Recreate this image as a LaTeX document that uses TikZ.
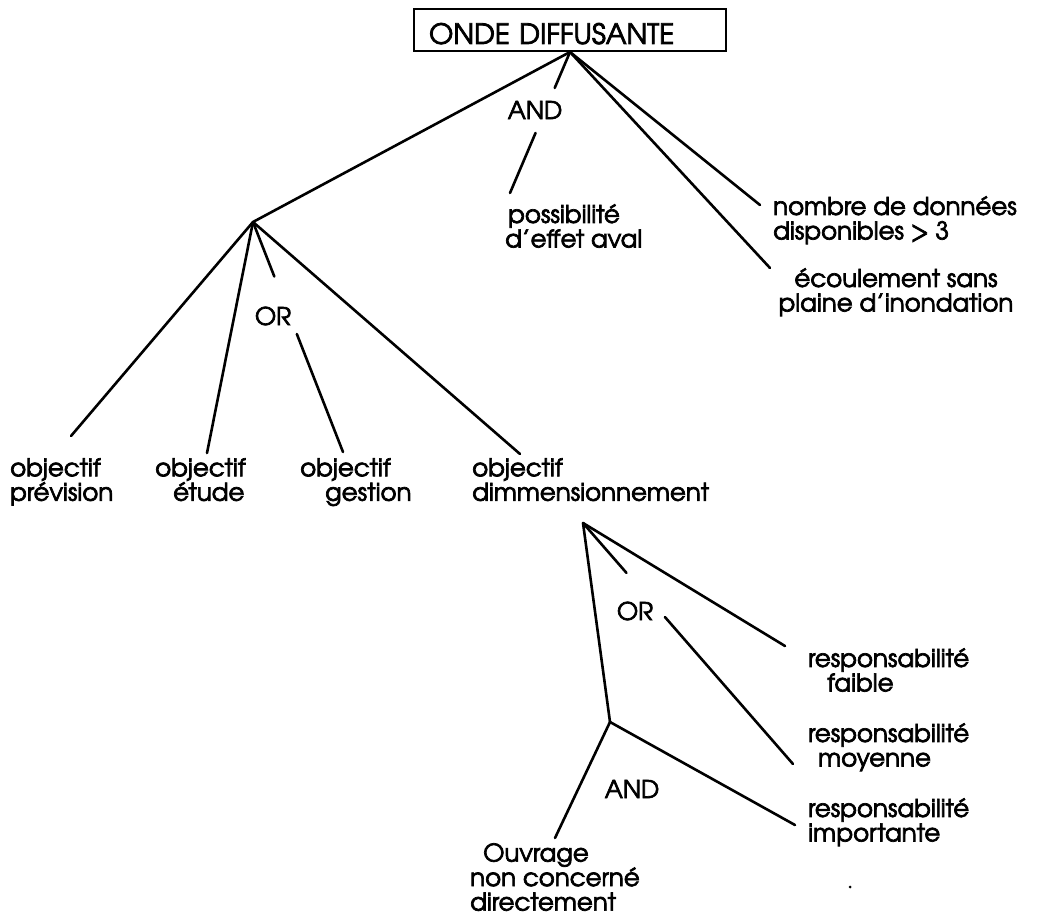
\documentclass[tikz,border=0pt]{standalone}
\usepackage{fontspec}
\setmainfont{TeX Gyre Adventor}[FakeBold=2.8]
\usetikzlibrary{calc}

\tikzset{
  leaf/.style={inner sep=0pt, anchor=north west, align=left,
    font=\fontsize{24.5}{24.5}\selectfont, execute at begin node=\rule{0pt}{19pt}},
  gate/.style={inner sep=0pt, font=\fontsize{24.5}{24.5}\selectfont},
  branch/.style={line width=2.6pt, line cap=round},
}

\begin{document}
\begin{tikzpicture}[x=1pt,y=-1pt]
\useasboundingbox (0,0) rectangle (1039,923);
% top of the tree
\node[draw, line width=2pt, anchor=north west, minimum width=312pt, inner xsep=15pt,
  inner ysep=0pt, text width=282pt, text height=35pt, text depth=7pt, align=left,
  font=\fontsize{28}{28}\selectfont] (top) at (413,8) {ONDE DIFFUSANTE};
\coordinate (orA) at (253,222);
\coordinate (D) at (583,523);
\coordinate (A2) at (610,722);
% line ends
\coordinate (e-poss) at (510,193);
\coordinate (e-nomb) at (760,205);
\coordinate (e-ecou) at (770,268);
\coordinate (e-prev) at (71,436);
\coordinate (e-etude) at (207,453);
\coordinate (e-gest) at (343,452);
\coordinate (e-dimm) at (520,454);
\coordinate (e-faib) at (785,646);
\coordinate (e-moye) at (793,764);
\coordinate (e-impo) at (795,825);
\coordinate (e-ouvr) at (555,838);
% leaves
\node[leaf] (poss) at (505,204) {\hspace*{3pt}possibilit\'e\\d'effet aval};
\node[leaf] (nomb) at (773,196) {nombre de donn\'ees\\disponibles > 3};
\node[leaf, anchor=north, align=center] (ecou) at (896,268) {\'ecoulement sans\\plaine d'inondation};
\node[leaf] (prev) at (10,458) {objectif\\pr\'evision};
\node[leaf] (etude) at (155,458) {objectif\\\hspace*{18pt}\'etude};
\node[leaf] (gest) at (300,458) {objectif\\\hspace*{25pt}gestion};
\node[leaf] (dimm) at (472,458) {objectif\\dimmensionnement};
\node[leaf] (faib) at (808,648) {responsabilit\'e\\\hspace*{19pt}faible};
\node[leaf] (moye) at (808,723) {responsabilit\'e\\\hspace*{10pt}moyenne};
\node[leaf] (impo) at (808,798) {responsabilit\'e\\importante};
\node[leaf] (ouvr) at (470,843) {\hspace*{13pt}Ouvrage\\non concern\'e\\directement};
% gates
\node[gate] (and1) at (535,110) {AND};
\node[gate] (or1) at (273,316) {OR};
\node[gate] (or2) at (635,611) {OR};
\node[gate] (and2) at (632,789) {AND};
% branches
\draw[branch] (top.south) -- (orA);
\draw[branch] (top.south) -- ($(top.south)!.255!(e-poss)$);
\draw[branch] ($(top.south)!.574!(e-poss)$) -- (e-poss);
\draw[branch] (top.south) -- (e-nomb);
\draw[branch] (top.south) -- (e-ecou);
\draw[branch] (orA) -- (e-prev);
\draw[branch] (orA) -- (e-etude);
\draw[branch] (orA) -- ($(orA)!.237!(e-gest)$);
\draw[branch] ($(orA)!.487!(e-gest)$) -- (e-gest);
\draw[branch] (orA) -- (e-dimm);
\draw[branch] (D) -- (e-faib);
\draw[branch] (D) -- ($(D)!.207!(e-moye)$);
\draw[branch] ($(D)!.39!(e-moye)$) -- (e-moye);
\draw[branch] (D) -- (A2);
\draw[branch] (A2) -- (e-impo);
\draw[branch] (A2) -- (e-ouvr);
\fill (850,887) circle (1.5);
\end{tikzpicture}
\end{document}
